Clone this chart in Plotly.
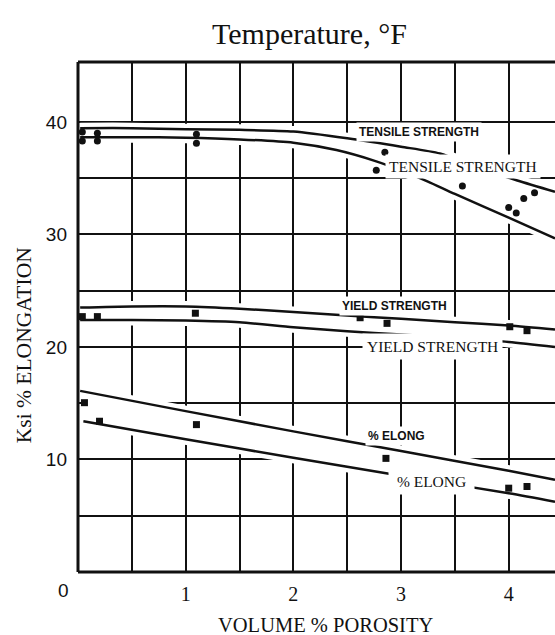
import plotly.graph_objects as go

# Axis ticks
porosity_ticks = [1, 2, 3, 4]
porosity_minor = [0.5, 1.5, 2.5, 3.5]
ksi_ticks = [10, 20, 30, 40]
ksi_minor = [5, 15, 25, 35]

# Tensile strength band (ksi) vs volume % porosity
tensile_hi_x = [0.02, 0.5, 1.0, 1.5, 2.0, 2.5, 3.0, 3.36, 3.7, 4.08, 4.43]
tensile_hi_y = [39.45, 39.45, 39.35, 39.3, 39.15, 38.55, 37.8, 37.2, 36.0, 34.8, 33.8]
tensile_lo_x = [0.02, 0.5, 1.0, 1.5, 2.0, 2.4, 2.77, 3.0, 3.25, 3.5, 4.0, 4.43]
tensile_lo_y = [38.65, 38.65, 38.6, 38.45, 38.15, 37.5, 36.5, 35.7, 34.7, 33.6, 31.5, 29.65]

# Yield strength band (ksi)
yield_hi_x = [0.02, 0.5, 1.0, 1.5, 2.0, 2.5, 3.0, 3.5, 4.0, 4.43]
yield_hi_y = [23.5, 23.6, 23.6, 23.4, 23.1, 22.8, 22.5, 22.2, 21.9, 21.55]
yield_lo_x = [0.02, 0.5, 1.0, 1.5, 2.0, 2.5, 3.0, 3.5, 4.0, 4.43]
yield_lo_y = [22.4, 22.4, 22.35, 22.2, 21.75, 21.4, 21.1, 20.8, 20.45, 20.0]

# Elongation band (%)
elong_hi_x = [0.02, 1.0, 2.0, 3.0, 4.0, 4.43]
elong_hi_y = [16.1, 14.3, 12.5, 10.75, 9.0, 8.2]
elong_lo_x = [0.05, 1.0, 2.0, 3.0, 4.0, 4.43]
elong_lo_y = [13.4, 11.8, 10.15, 8.55, 7.0, 6.25]

# Measured specimens
tensile_pts_x = [0.04, 0.04, 0.18, 0.18, 1.1, 1.1, 2.77, 2.85, 3.57, 4.0, 4.07, 4.14, 4.24]
tensile_pts_y = [39.1, 38.3, 39.0, 38.3, 38.9, 38.1, 35.7, 37.3, 34.3, 32.4, 31.9, 33.2, 33.7]
yield_pts_x = [0.04, 0.18, 1.09, 2.62, 2.87, 4.01, 4.17]
yield_pts_y = [22.7, 22.7, 23.0, 22.6, 22.1, 21.8, 21.45]
elong_pts_x = [0.06, 0.2, 1.1, 2.86, 4.0, 4.17]
elong_pts_y = [15.05, 13.4, 13.1, 10.1, 7.45, 7.6]

SERIF = "Liberation Serif"
SANS = "Liberation Sans"
INK = "#111111"

bands = [
    (tensile_hi_x, tensile_hi_y, tensile_lo_x, tensile_lo_y),
    (yield_hi_x, yield_hi_y, yield_lo_x, yield_lo_y),
    (elong_hi_x, elong_hi_y, elong_lo_x, elong_lo_y),
]

fig = go.Figure()
spline = dict(shape="spline", smoothing=0.7)

# white area between each pair of curves (grid does not show through)
for hx, hy, lx, ly in bands:
    fig.add_trace(go.Scatter(x=hx, y=hy, mode="lines",
                             line=dict(color="white", width=0, **spline),
                             hoverinfo="skip", showlegend=False))
    fig.add_trace(go.Scatter(x=lx, y=ly, mode="lines", fill="tonexty",
                             fillcolor="white",
                             line=dict(color="white", width=0, **spline),
                             hoverinfo="skip", showlegend=False))

# white halo under each curve, then the curve itself
for hx, hy, lx, ly in bands:
    for cx, cy in ((hx, hy), (lx, ly)):
        fig.add_trace(go.Scatter(x=cx, y=cy, mode="lines",
                                 line=dict(color="white", width=11, **spline),
                                 hoverinfo="skip", showlegend=False))
for hx, hy, lx, ly in bands:
    for cx, cy in ((hx, hy), (lx, ly)):
        fig.add_trace(go.Scatter(x=cx, y=cy, mode="lines",
                                 line=dict(color=INK, width=2.5, **spline),
                                 showlegend=False))

fig.add_trace(go.Scatter(x=tensile_pts_x, y=tensile_pts_y, mode="markers",
                         marker=dict(symbol="circle", size=7, color=INK),
                         showlegend=False))
fig.add_trace(go.Scatter(x=yield_pts_x, y=yield_pts_y, mode="markers",
                         marker=dict(symbol="square", size=7, color=INK),
                         showlegend=False))
fig.add_trace(go.Scatter(x=elong_pts_x, y=elong_pts_y, mode="markers",
                         marker=dict(symbol="square", size=7, color=INK),
                         showlegend=False))

grid = dict(showgrid=True, gridcolor=INK, gridwidth=2)

fig.update_xaxes(range=[0, 4.43], tickmode="array", tickvals=porosity_ticks,
                 ticktext=[str(v) for v in porosity_ticks],
                 tickfont=dict(family=SERIF, size=20, color=INK),
                 ticks="", zeroline=False, showline=False,
                 ticklabelstandoff=8,
                 minor=dict(tickmode="array", tickvals=porosity_minor, **grid),
                 **grid)
fig.update_yaxes(range=[0, 45.33], tickmode="array", tickvals=ksi_ticks,
                 ticktext=[str(v) for v in ksi_ticks],
                 tickfont=dict(family=SANS, size=19, color=INK),
                 ticks="", zeroline=False, showline=False,
                 ticklabelstandoff=10,
                 minor=dict(tickmode="array", tickvals=ksi_minor, **grid),
                 **grid)

# frame: left, top and bottom edges
border = dict(type="line", xref="paper", yref="paper",
              line=dict(color=INK, width=3), layer="above")
fig.add_shape(x0=0, x1=0, y0=0, y1=1, **border)
fig.add_shape(x0=0, x1=1, y0=1, y1=1, **border)
fig.add_shape(x0=0, x1=1, y0=0, y1=0, **border)

bold_lab = dict(family=SANS, size=12, color=INK, weight="bold")
serif_lab = dict(family=SERIF, size=15.5, color=INK)
labels = [
    ("TENSILE STRENGTH", 3.165, 39.14, bold_lab, 2),
    ("TENSILE STRENGTH", 3.573, 36.03, serif_lab, 3),
    ("YIELD STRENGTH", 2.94, 23.67, bold_lab, 2),
    ("YIELD STRENGTH", 3.295, 20.03, serif_lab, 4),
    ("% ELONG", 2.96, 12.09, bold_lab, 2),
    ("\u00a0% ELONG\u00a0", 3.285, 8.03, serif_lab, 4),
]
for text, lx, ly, font, pad in labels:
    fig.add_annotation(x=lx, y=ly, text=text, showarrow=False, font=font,
                       xanchor="center", yanchor="middle",
                       bgcolor="white", borderpad=pad)

centered = dict(xref="paper", yref="paper", showarrow=False,
                xanchor="center", yanchor="middle")
fig.add_annotation(x=-0.0314, y=-0.0353, text="0",
                   font=dict(family=SANS, size=19, color=INK), **centered)
fig.add_annotation(x=0.486, y=1.056, text="Temperature, °F",
                   font=dict(family=SERIF, size=30, color=INK), **centered)
fig.add_annotation(x=-0.114, y=0.444, text="Ksi % ELONGATION", textangle=-90,
                   font=dict(family=SERIF, size=21.5, color=INK), **centered)
fig.add_annotation(x=0.518, y=-0.103, text="VOLUME % POROSITY",
                   font=dict(family=SERIF, size=20.5, color=INK), **centered)

fig.update_layout(width=555, height=635,
                  margin=dict(l=78, r=0, t=62, b=63),
                  paper_bgcolor="white", plot_bgcolor="white")

fig.write_html("out.html")
